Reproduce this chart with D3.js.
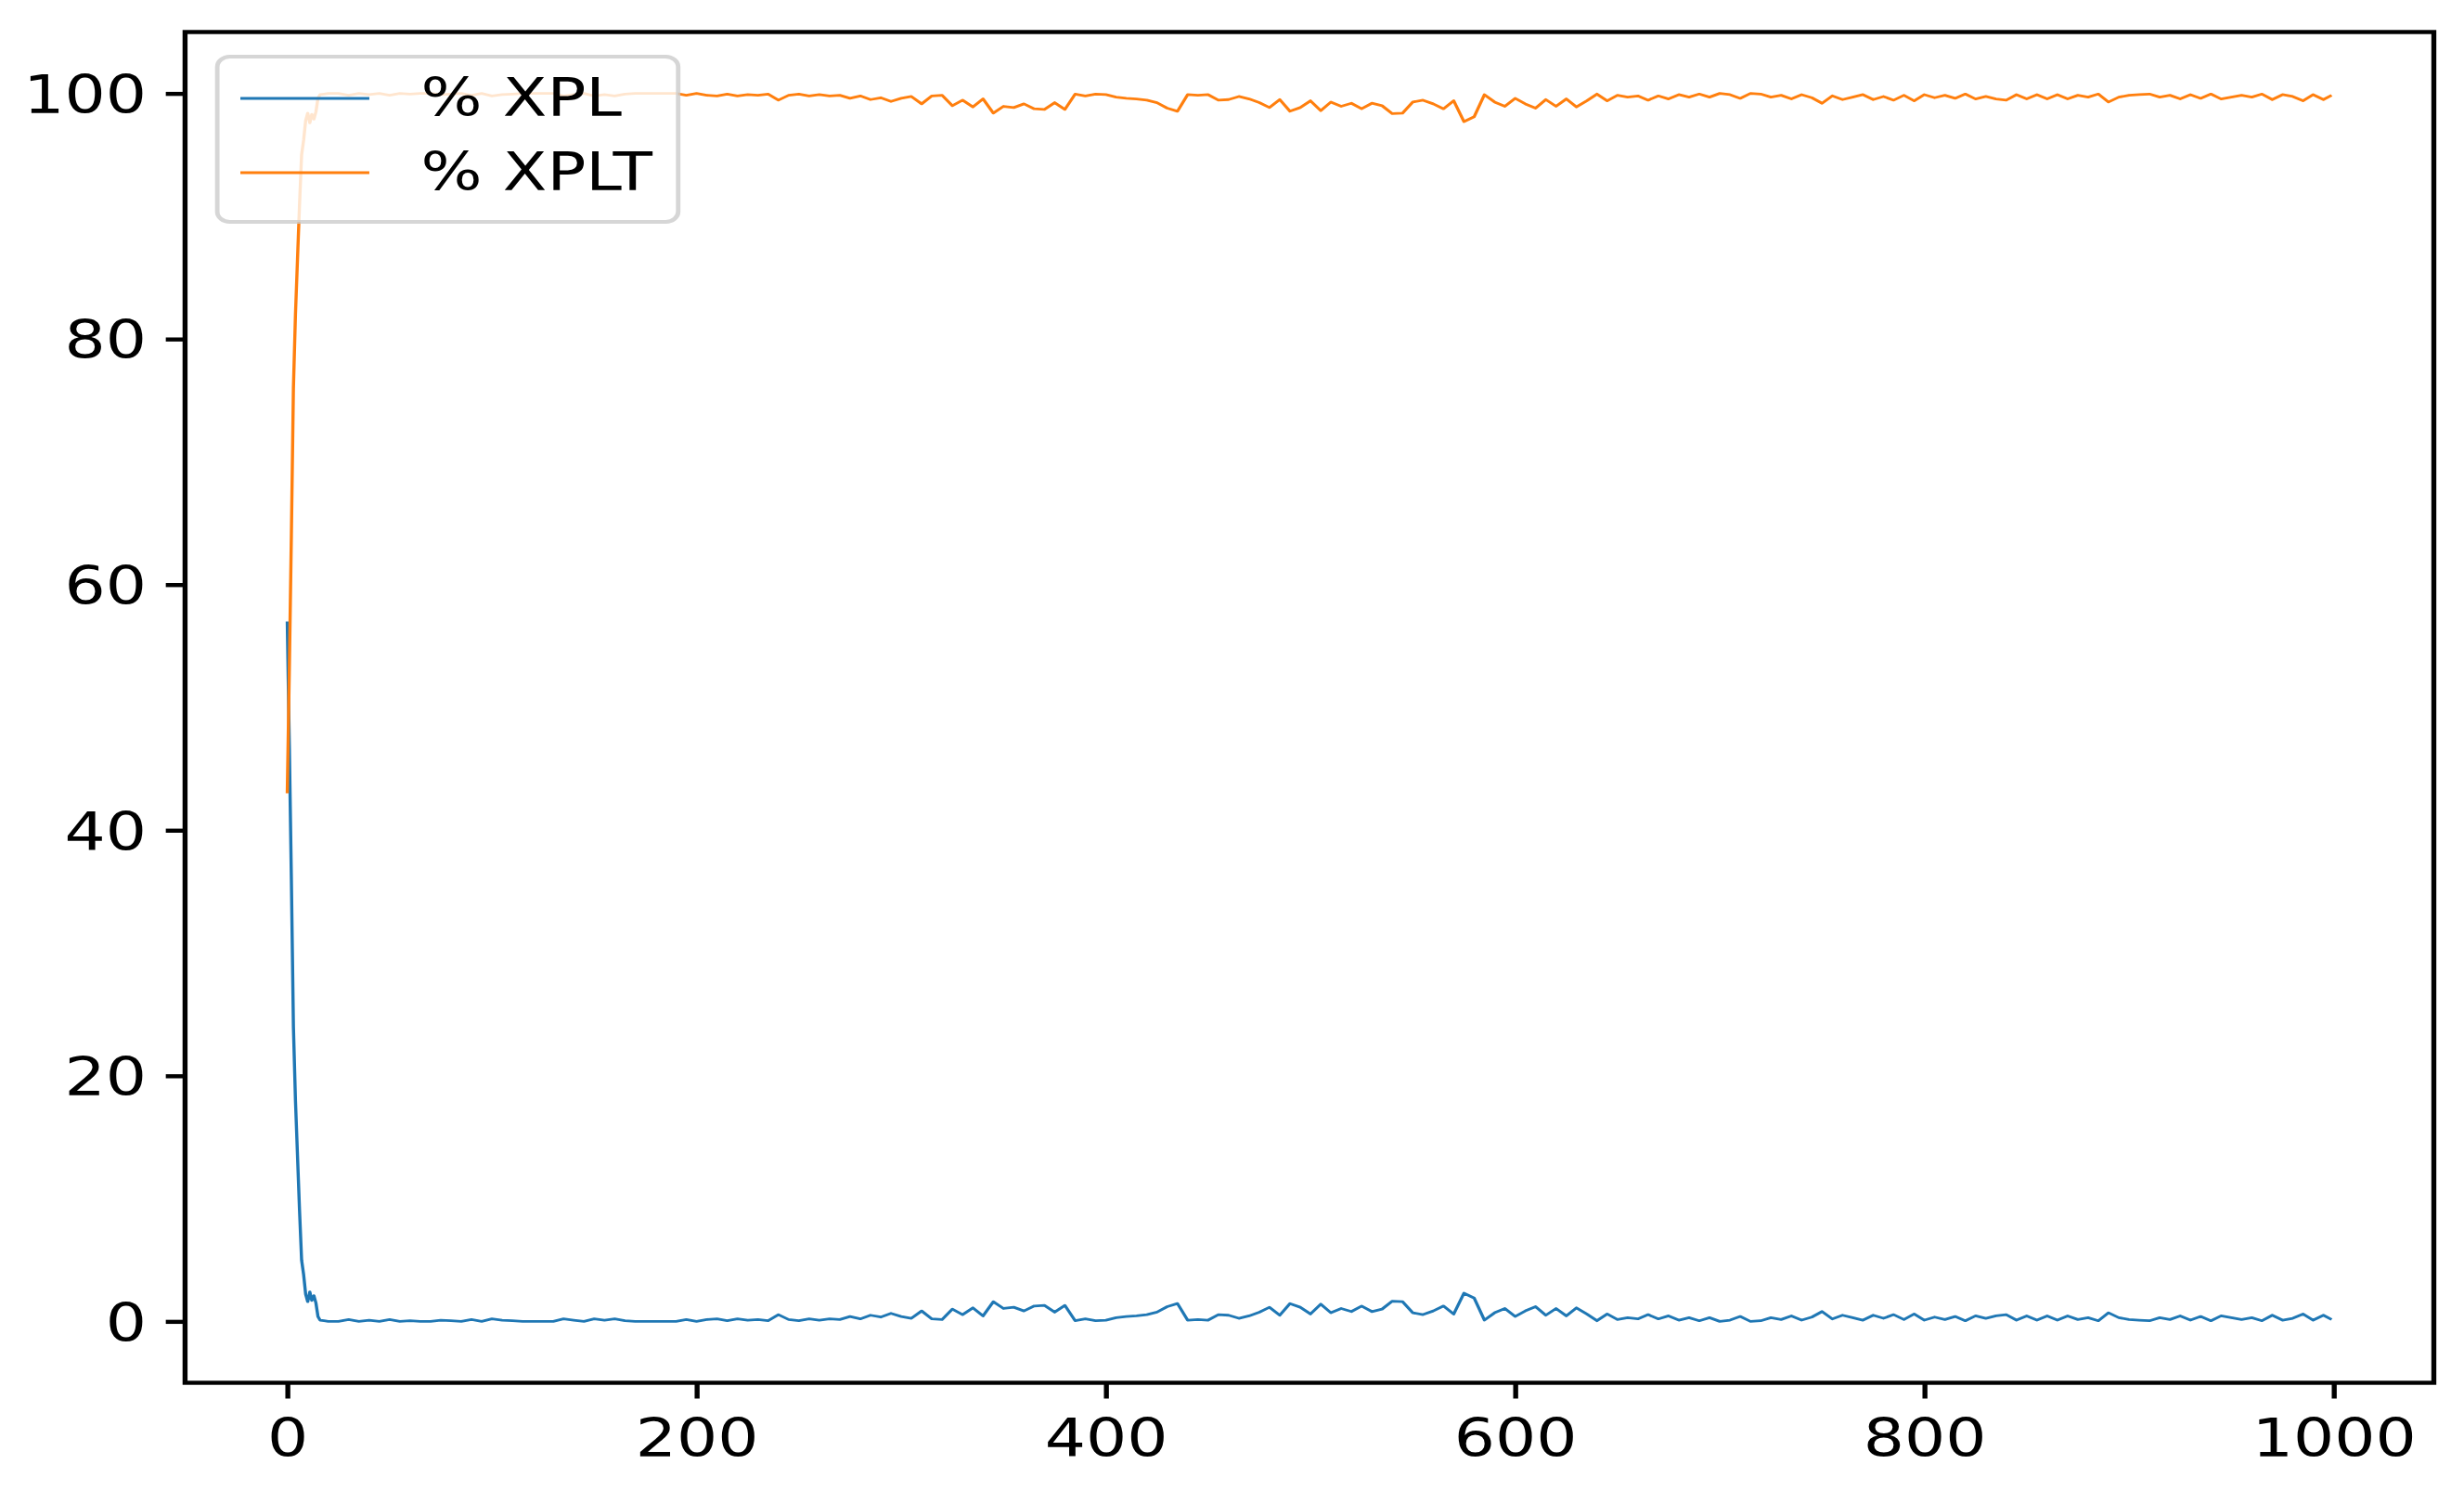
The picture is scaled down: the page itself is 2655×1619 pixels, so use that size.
<!DOCTYPE html>
<html>
<head>
<meta charset="utf-8">
<script src="https://cdn.jsdelivr.net/npm/d3@7"></script>
<style>
  html, body { margin: 0; padding: 0; background: #ffffff; }
  svg { display: block; }
</style>
</head>
<body>
<div id="chart"></div>
<script>
// ---------------- DATA ----------------
const seriesNames = ["% XPL", "% XPLT"];
const xTicks = [0, 200, 400, 600, 800, 1000];
const yTicks = [0, 20, 40, 60, 80, 100];

const steps = [0,1,2,3,4,5,6,7,8,9,10,11,12,13,14,15,16,18,20,
25,30,35,40,45,50,55,60,65,70,75,80,85,90,95,100,
105,110,115,120,125,130,135,140,145,150,155,160,165,170,175,180,185,190,195,200,
205,210,215,220,225,230,235,240,245,250,255,260,265,270,275,280,285,290,295,300,
305,310,315,320,325,330,335,340,345,350,355,360,365,370,375,380,385,390,395,400,
405,410,415,420,425,430,435,440,445,450,455,460,465,470,475,480,485,490,495,500,
505,510,515,520,525,530,535,540,545,550,555,560,565,570,575,580,585,590,595,600,
605,610,615,620,625,630,635,640,645,650,655,660,665,670,675,680,685,690,695,700,
705,710,715,720,725,730,735,740,745,750,755,760,765,770,775,780,785,790,795,800,
805,810,815,820,825,830,835,840,845,850,855,860,865,870,875,880,885,890,895,900,
905,910,915,920,925,930,935,940,945,950,955,960,965,970,975,980,985,990,995,999];

const xplValues = [57,47,36,24,18,13.5,9,5,3.8,2.2,1.6,2.4,1.7,2.1,1.5,0.4,0.1,0.05,0,
0,0.15,0,0.1,0,0.15,0,0.05,0,0,0.1,0.05,0,0.15,0,0.2,
0.1,0.05,0,0,0,0,0.2,0.1,0,0.2,0.1,0.2,0.05,0,0,0,0,0,0.15,0,
0.15,0.2,0.05,0.2,0.1,0.15,0.05,0.55,0.15,0.05,0.2,0.1,0.2,0.15,0.4,0.2,0.5,0.35,0.65,0.4,
0.25,0.85,0.2,0.15,1.0,0.55,1.1,0.45,1.6,1.05,1.15,0.85,1.25,1.3,0.75,1.3,0.05,0.2,0.05,0.1,
0.3,0.4,0.45,0.55,0.75,1.2,1.45,0.1,0.15,0.1,0.55,0.5,0.25,0.45,0.75,1.15,0.5,1.45,1.15,0.6,
1.4,0.7,1.05,0.8,1.25,0.8,1.0,1.65,1.6,0.7,0.55,0.85,1.25,0.6,2.3,1.9,0.1,0.7,1.05,0.4,
0.85,1.2,0.5,1.05,0.45,1.1,0.6,0.05,0.6,0.15,0.3,0.2,0.55,0.2,0.45,0.1,0.3,0.05,0.3,0,
0.1,0.4,0,0.05,0.3,0.15,0.45,0.1,0.35,0.8,0.2,0.5,0.3,0.1,0.5,0.25,0.55,0.15,0.6,0.1,
0.35,0.15,0.4,0.05,0.45,0.25,0.45,0.55,0.1,0.45,0.1,0.45,0.1,0.45,0.15,0.3,0.05,0.7,0.3,0.15,
0.1,0.05,0.3,0.15,0.45,0.1,0.4,0.05,0.45,0.3,0.15,0.3,0.05,0.5,0.1,0.25,0.6,0.1,0.5,0.15];

const xpltValues = [43,53,64,76,82,86.5,91,95,96.2,97.8,98.4,97.6,98.3,97.9,98.5,99.6,99.9,99.95,100,
100,99.85,100,99.9,100,99.85,100,99.95,100,100,99.9,99.95,100,99.85,100,99.8,
99.9,99.95,100,100,100,100,99.8,99.9,100,99.8,99.9,99.8,99.95,100,100,100,100,100,99.85,100,
99.85,99.8,99.95,99.8,99.9,99.85,99.95,99.45,99.85,99.95,99.8,99.9,99.8,99.85,99.6,99.8,99.5,99.65,99.35,99.6,
99.75,99.15,99.8,99.85,99,99.45,98.9,99.55,98.4,98.95,98.85,99.15,98.75,98.7,99.25,98.7,99.95,99.8,99.95,99.9,
99.7,99.6,99.55,99.45,99.25,98.8,98.55,99.9,99.85,99.9,99.45,99.5,99.75,99.55,99.25,98.85,99.5,98.55,98.85,99.4,
98.6,99.3,98.95,99.2,98.75,99.2,99,98.35,98.4,99.3,99.45,99.15,98.75,99.4,97.7,98.1,99.9,99.3,98.95,99.6,
99.15,98.8,99.5,98.95,99.55,98.9,99.4,99.95,99.4,99.85,99.7,99.8,99.45,99.8,99.55,99.9,99.7,99.95,99.7,100,
99.9,99.6,100,99.95,99.7,99.85,99.55,99.9,99.65,99.2,99.8,99.5,99.7,99.9,99.5,99.75,99.45,99.85,99.4,99.9,
99.65,99.85,99.6,99.95,99.55,99.75,99.55,99.45,99.9,99.55,99.9,99.55,99.9,99.55,99.85,99.7,99.95,99.3,99.7,99.85,
99.9,99.95,99.7,99.85,99.55,99.9,99.6,99.95,99.55,99.7,99.85,99.7,99.95,99.5,99.9,99.75,99.4,99.9,99.5,99.85];

const colors = ["#1f77b4", "#ff7f0e"];

// ---------------- LAYOUT ----------------
const W = 2655, H = 1619;
const S = 1.22;                 // horizontal stretch of the original picture
const FONT = 57;
const axLeft = 199.4 / S, axRight = 2622.5 / S;
const axTop = 34.5, axBottom = 1489.5;

const svg = d3.select("#chart").append("svg")
  .attr("width", W).attr("height", H)
  .attr("viewBox", `0 0 ${W} ${H}`);
svg.append("rect").attr("width", W).attr("height", H).attr("fill", "#ffffff");

const g = svg.append("g").attr("transform", `scale(${S},1)`);

const x = d3.scaleLinear().domain([-49.95, 1048.95]).range([axLeft, axRight]);
const y = d3.scaleLinear().domain([-5, 105]).range([axBottom, axTop]);

// axes
const xAxis = g.append("g").attr("transform", `translate(0,${axBottom})`)
  .call(d3.axisBottom(x).tickValues(xTicks).tickFormat(d3.format("d")).tickSize(17).tickPadding(22));
const yAxis = g.append("g").attr("transform", `translate(${axLeft},0)`)
  .call(d3.axisLeft(y).tickValues(yTicks).tickFormat(d3.format("d")).tickSize(17).tickPadding(17));
[xAxis, yAxis].forEach(a => {
  a.select(".domain").remove();
  a.selectAll(".tick line").attr("stroke", "#000").attr("stroke-width", 4.4);
  a.selectAll(".tick text").attr("fill", "#000")
    .style("font-family", "'DejaVu Sans', sans-serif").style("font-size", FONT + "px");
});
yAxis.selectAll(".tick text").attr("dy", "0.365em");

// data lines
const lineGen = (vals) => d3.line()
  .x((d, i) => x(steps[i]))
  .y((d) => y(d))(vals);

g.append("path").attr("d", lineGen(xplValues))
  .attr("fill", "none").attr("stroke", colors[0]).attr("stroke-width", 2.8)
  .attr("stroke-linejoin", "round");
g.append("path").attr("d", lineGen(xpltValues))
  .attr("fill", "none").attr("stroke", colors[1]).attr("stroke-width", 2.8)
  .attr("stroke-linejoin", "round");

// spines
g.append("rect")
  .attr("x", axLeft).attr("y", axTop)
  .attr("width", axRight - axLeft).attr("height", axBottom - axTop)
  .attr("fill", "none").attr("stroke", "#000").attr("stroke-width", 4.4);

// legend
const leg = g.append("g");
const boxX = 191.9, boxY = 61, boxH = 178;
const frame = leg.append("rect")
  .attr("x", boxX).attr("y", boxY).attr("height", boxH).attr("rx", 11).attr("ry", 11)
  .attr("fill", "#ffffff").attr("fill-opacity", 0.8)
  .attr("stroke", "#cccccc").attr("stroke-opacity", 0.8).attr("stroke-width", 4);
const rowY = [106, 186];
const textX = 371.8;
let maxLen = 0;
seriesNames.forEach((name, i) => {
  leg.append("line")
    .attr("x1", 212.3).attr("x2", 326.2).attr("y1", rowY[i]).attr("y2", rowY[i])
    .attr("stroke", colors[i]).attr("stroke-width", 2.8);
  const t = leg.append("text")
    .attr("x", textX).attr("y", rowY[i] + 19)
    .attr("fill", "#000")
    .style("font-family", "'DejaVu Sans', sans-serif").style("font-size", FONT + "px")
    .text(name);
  maxLen = Math.max(maxLen, t.node().getComputedTextLength());
});
frame.attr("width", textX + maxLen + 22.8 - boxX);
</script>
</body>
</html>
